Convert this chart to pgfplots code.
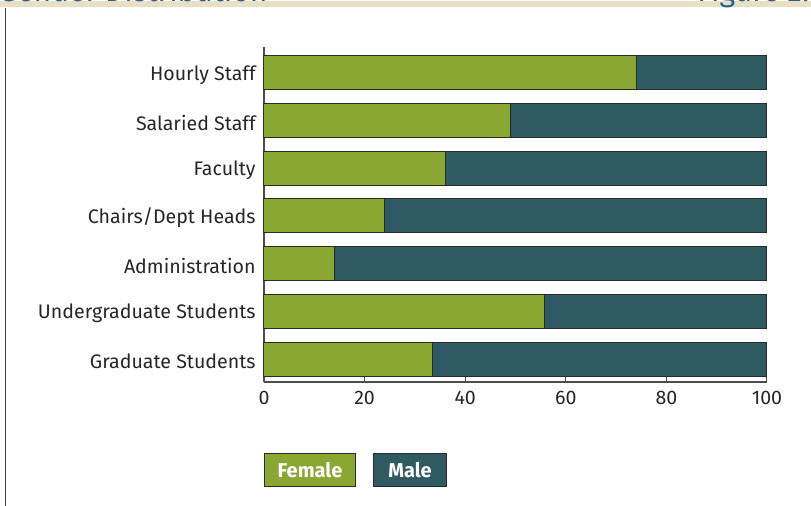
\documentclass[border=0pt]{standalone}
\usepackage{pgfplots}
\pgfplotsset{compat=1.18}
\usepackage{fontspec}
\setmainfont{Fira Sans}
\definecolor{fgreen}{HTML}{8AA633}
\definecolor{mteal}{HTML}{2F5A61}
\definecolor{titleblue}{HTML}{2B5F8E}
\definecolor{beige}{HTML}{E8DFC4}
\definecolor{edge}{HTML}{2A2A2A}
\begin{document}
\begin{tikzpicture}
\path[use as bounding box] (0,0) rectangle (405.5pt,253pt);
\begin{scope}
\clip (0,0) rectangle (405.5pt,253pt);
\fill[beige] (0,249.25pt) rectangle (405.5pt,252.25pt);
\node[anchor=base west, inner sep=0pt, text=titleblue, font=\fontsize{15}{17}\selectfont] at (-1pt,252pt) {Gender Distribution};
\node[anchor=base west, inner sep=0pt, text=titleblue, font=\fontsize{15}{17}\selectfont] at (348.5pt,252pt) {Figure 2.1};
\end{scope}
\draw[line width=0.8pt, black!75] (2.75pt,249pt) -- (2.75pt,0pt);
\begin{axis}[
  at={(132pt,62pt)}, anchor=south west,
  scale only axis, width=251.5pt, height=167.5pt,
  xbar stacked, bar width=0.71,
  xmin=0, xmax=100, ymin=-0.48, ymax=6.54,
  axis x line*=bottom, axis y line*=left,
  axis line style={black!70, line width=0.6pt},
  xtick={0,20,40,60,80,100},
  ytick={0,1,2,3,4,5,6},
  yticklabels={Graduate Students, Undergraduate Students, Administration, Chairs/Dept Heads, Faculty, Salaried Staff, Hourly Staff},
  tick label style={font=\fontsize{9.8}{11}\selectfont, text=black!85},
  /pgf/number format/assume math mode=true,
  yticklabel style={inner sep=4pt, yshift=-1pt},
  major tick length=3pt,
  xtick style={black!70, line width=0.5pt},
  ytick style={draw=none},
  xtick align=inside,
  xticklabel style={yshift=-1pt},
  clip=false,
]
\addplot[fill=fgreen, draw=edge, line width=0.5pt] coordinates {(33.4,0) (55.7,1) (14,2) (24,3) (36,4) (49,5) (74,6)};
\addplot[fill=mteal, draw=edge, line width=0.5pt] coordinates {(66.6,0) (44.3,1) (86,2) (76,3) (64,4) (51,5) (26,6)};
\end{axis}
\node[draw=edge, fill=fgreen, line width=0.5pt, minimum width=45.5pt, minimum height=16.5pt, inner sep=0pt, anchor=north west, text=white, font=\fontsize{10}{11}\selectfont\bfseries] at (132pt,26.5pt) {Female};
\node[draw=edge, fill=mteal, line width=0.5pt, minimum width=36.5pt, minimum height=16.5pt, inner sep=0pt, anchor=north west, text=white, font=\fontsize{10}{11}\selectfont\bfseries] at (186.5pt,26.5pt) {Male};
\end{tikzpicture}
\end{document}
